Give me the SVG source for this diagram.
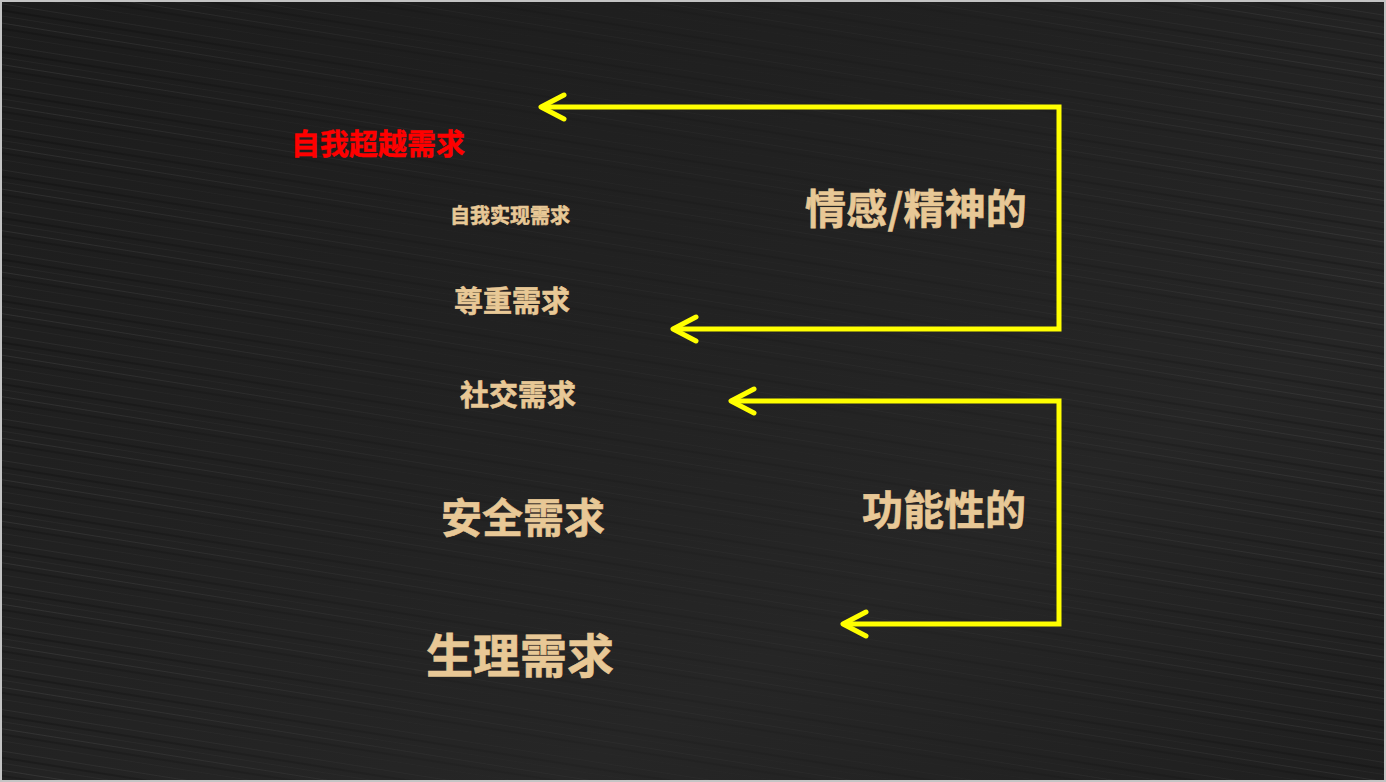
<svg xmlns="http://www.w3.org/2000/svg" width="1386" height="782" viewBox="0 0 1386 782">
<defs>
<linearGradient id="bg" x1="0" y1="0" x2="1" y2="1">
<stop offset="0" stop-color="#1c1c1c"/>
<stop offset="0.45" stop-color="#222222"/>
<stop offset="0.7" stop-color="#262626"/>
<stop offset="1" stop-color="#1f1f1f"/>
</linearGradient>
<pattern id="streaks" width="1600" height="41" patternUnits="userSpaceOnUse" patternTransform="rotate(9)">
<rect x="0" y="3" width="1600" height="1" fill="#ffffff" opacity="0.06"/>
<rect x="0" y="9" width="1600" height="2" fill="#000000" opacity="0.2"/>
<rect x="0" y="15" width="1600" height="1" fill="#ffffff" opacity="0.04"/>
<rect x="0" y="22" width="1600" height="1" fill="#ffffff" opacity="0.08"/>
<rect x="0" y="27" width="1600" height="2" fill="#000000" opacity="0.17"/>
<rect x="0" y="34" width="1600" height="1" fill="#ffffff" opacity="0.03"/>
</pattern>
<linearGradient id="fade" x1="0" y1="0" x2="1" y2="0">
<stop offset="0" stop-color="#fff" stop-opacity="1"/>
<stop offset="0.35" stop-color="#fff" stop-opacity="0.35"/>
<stop offset="0.7" stop-color="#fff" stop-opacity="0.3"/>
<stop offset="1" stop-color="#fff" stop-opacity="0.9"/>
</linearGradient>
<mask id="m"><rect width="1386" height="782" fill="url(#fade)"/></mask>
<style>
.t{font-family:"Noto Sans CJK SC","Noto Sans",sans-serif;font-weight:bold;fill:#E8C896;stroke:#E8C896;stroke-width:0.6}
.r{font-family:"Noto Sans CJK SC","Noto Sans",sans-serif;font-weight:bold;fill:#FF0000;stroke:#FF0000;stroke-width:0.5}
.c{fill:none;stroke:#FFFF00;stroke-width:5;stroke-linejoin:miter}
.h{fill:none;stroke:#FFFF00;stroke-width:5;stroke-linecap:round;stroke-linejoin:round}
</style>
</defs>
<rect x="0" y="0" width="1386" height="782" fill="url(#bg)"/>
<rect x="0" y="0" width="1386" height="782" fill="url(#streaks)" mask="url(#m)"/>
<rect x="1" y="1" width="1384" height="780" fill="none" stroke="#c4c4c4" stroke-width="2"/>

<g id="n-transcend"><text class="r" x="291" y="155" font-size="29">自我超越需求</text></g>
<g id="n-selfactual"><text class="t" x="450" y="222.5" font-size="20">自我实现需求</text></g>
<g id="n-esteem"><text class="t" x="454" y="312" font-size="29">尊重需求</text></g>
<g id="n-social"><text class="t" x="460" y="406" font-size="29">社交需求</text></g>
<g id="n-safety"><text class="t" x="441" y="532.5" font-size="41">安全需求</text></g>
<g id="n-physio"><text class="t" x="426" y="672.5" font-size="47">生理需求</text></g>
<g id="n-emotional"><text class="t" x="805" y="223.5" font-size="41" letter-spacing="0.2">情感/精神的</text></g>
<g id="n-functional"><text class="t" x="862" y="524.5" font-size="41">功能性的</text></g>

<g id="connectors">
<path class="c" d="M541,107 H1059 V329 H673"/>
<path class="h" d="M564,95 L541,107 L564,119"/>
<path class="h" d="M696,317 L673,329 L696,341"/>
<path class="c" d="M731,401 H1059 V624 H843"/>
<path class="h" d="M754,389 L731,401 L754,413"/>
<path class="h" d="M866,612 L843,624 L866,636"/>
</g>
</svg>
